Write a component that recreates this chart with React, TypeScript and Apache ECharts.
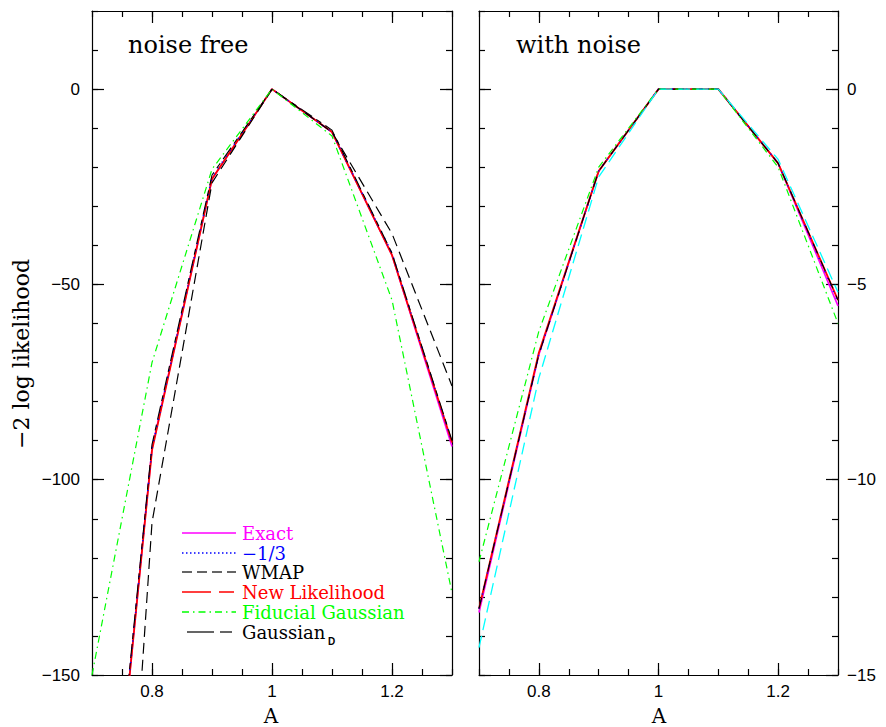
import React, { useEffect, useRef } from "react";
import * as echarts from "echarts";

// ---- data ----
const xs = [0.7, 0.8, 0.9, 1.0, 1.1, 1.2, 1.3];

// left panel: noise free
const exactL = [-247, -92, -23, 0, -11, -42.5, -91.5];
const oneThirdL = [-246, -92, -22.5, 0, -11, -42, -90.5];
const newLikeL = [-247, -92.5, -23, 0, -11, -42.5, -90.5];
const gaussDL = [-245, -91, -22, 0, -10.5, -42, -90];
const wmapL = [-340, -111, -24, 0, -11, -37, -76];
const fidL = [-150, -70, -20.5, 0, -12, -54, -129];

// right panel: with noise
const exactR = [-13.4, -6.8, -2.1, 0, 0, -1.9, -5.55];
const oneThirdR = [-13.3, -6.8, -2.1, 0, 0, -1.9, -5.45];
const newLikeR = [-13.3, -6.75, -2.1, 0, 0, -1.9, -5.4];
const wmapR = [-13.3, -6.8, -2.1, 0, 0, -1.9, -5.4];
const fidR = [-12.1, -6.2, -2.0, 0, 0, -2.0, -6.0];
const cyanR = [-14.3, -7.4, -2.25, 0, 0, -1.8, -5.2];

const xMajor = [0.8, 1, 1.2];
const yMajorL = [-150, -100, -50, 0];
const yMajorR = [-15, -10, -5, 0];

const legendNames = ["Exact", "\u22121/3", "WMAP", "New Likelihood", "Fiducial Gaussian", "Gaussian"];

const pair = (v: number[]) => xs.map((x, i) => [x, v[i]]);
const fmt = (v: number) => (v === 0 ? "0" : v < 0 ? "\u2212" + Math.abs(v) : String(v));

const AX = "#000";
const labelFont = { fontFamily: "Liberation Sans", fontSize: 17, color: "#000" };

function xAxes(grid: number) {
  const base = { type: "value", gridIndex: grid, min: 0.7, max: 1.3, splitLine: { show: false } };
  return [
    {
      ...base,
      position: "bottom",
      axisLine: { show: true, onZero: false, lineStyle: { color: AX, width: 1.2 } },
      axisTick: { show: true, inside: true, length: 12, customValues: xMajor, lineStyle: { color: AX, width: 1.2 } },
      axisLabel: { show: true, customValues: xMajor, margin: 8, formatter: (v: number) => String(v), ...labelFont },
    },
    {
      ...base,
      position: "bottom",
      interval: 0.05,
      axisLine: { show: false, onZero: false },
      axisTick: { show: true, inside: true, length: 6, lineStyle: { color: AX, width: 1.2 } },
      axisLabel: { show: false },
    },
    {
      ...base,
      position: "top",
      axisLine: { show: true, onZero: false, lineStyle: { color: AX, width: 1.2 } },
      axisTick: { show: true, inside: true, length: 12, customValues: xMajor, lineStyle: { color: AX, width: 1.2 } },
      axisLabel: { show: false },
    },
    {
      ...base,
      position: "top",
      interval: 0.05,
      axisLine: { show: false, onZero: false },
      axisTick: { show: true, inside: true, length: 6, lineStyle: { color: AX, width: 1.2 } },
      axisLabel: { show: false },
    },
  ];
}

function yAxes(grid: number, min: number, max: number, minor: number, majors: number[], labelSide: "left" | "right") {
  const base = { type: "value", gridIndex: grid, min, max, splitLine: { show: false } };
  const sides: ("left" | "right")[] = ["left", "right"];
  const out: any[] = [];
  sides.forEach((side) => {
    out.push({
      ...base,
      position: side,
      axisLine: { show: true, onZero: false, lineStyle: { color: AX, width: 1.2 } },
      axisTick: { show: true, inside: true, length: 12, customValues: majors, lineStyle: { color: AX, width: 1.2 } },
      axisLabel: {
        show: side === labelSide,
        customValues: majors,
        margin: side === "left" ? 12 : 9,
        formatter: fmt,
        ...labelFont,
      },
    });
    out.push({
      ...base,
      position: side,
      interval: minor,
      axisLine: { show: false, onZero: false },
      axisTick: { show: true, inside: true, length: 6, lineStyle: { color: AX, width: 1.2 } },
      axisLabel: { show: false },
    });
  });
  return out;
}

function line(name: string, data: number[], xi: number, yi: number, color: string, width: number, type: any, z: number) {
  return {
    name,
    type: "line",
    xAxisIndex: xi,
    yAxisIndex: yi,
    data: pair(data),
    symbol: "none",
    showSymbol: false,
    clip: true,
    z,
    lineStyle: { color, width, type },
  };
}

export default function App() {
  const ref = useRef<HTMLDivElement>(null);
  useEffect(() => {
    document.body.style.margin = "0";
    const chart = echarts.init(ref.current!, null, { renderer: "svg" });
    const dashDot = [7, 4, 1.5, 4];
    const longShort = [14, 5, 6, 5];
    const serif = "DejaVu Serif";

    const legendRows = [
      { y: 533, color: "#ff00ff", dash: undefined, text: legendNames[0], x1: 182 },
      { y: 553, color: "#0000ff", dash: [1.5, 2.5], text: legendNames[1], x1: 182 },
      { y: 572, color: "#333", dash: [10, 5], text: legendNames[2], x1: 182 },
      { y: 592, color: "#ff0000", dash: [29, 8, 15, 100], text: legendNames[3], x1: 182 },
      { y: 612, color: "#00ff00", dash: [7, 4, 1.5, 4], text: legendNames[4], x1: 182 },
      { y: 632, color: "#333", dash: [27, 6, 12, 100], text: legendNames[5], x1: 187 },
    ];
    const textColors = ["#ff00ff", "#0000ff", "#000", "#ff0000", "#00ff00", "#000"];

    const graphics: any[] = [];
    legendRows.forEach((r, i) => {
      graphics.push({
        type: "line",
        shape: { x1: r.x1, y1: r.y, x2: 236, y2: r.y },
        style: { stroke: r.color, lineWidth: 1.3, lineDash: r.dash },
        z: 100,
      });
      graphics.push({
        type: "text",
        x: 242,
        y: r.y,
        style: { text: r.text, fill: textColors[i], font: `18px "${serif}"`, verticalAlign: "middle", align: "left" },
        z: 100,
      });
    });
    graphics.push({
      type: "text",
      x: 328,
      y: 641,
      style: { text: "D", fill: "#000", font: `bold 10px "Liberation Sans"`, verticalAlign: "middle", align: "left" },
      z: 100,
    });
    graphics.push({
      type: "text",
      x: 128,
      y: 45,
      style: { text: "noise free", fill: "#000", font: `24px "${serif}"`, verticalAlign: "middle", align: "left" },
    });
    graphics.push({
      type: "text",
      x: 516,
      y: 45,
      style: { text: "with noise", fill: "#000", font: `24px "${serif}"`, verticalAlign: "middle", align: "left" },
    });
    graphics.push({
      type: "text",
      x: 21,
      y: 354,
      rotation: Math.PI / 2,
      style: { text: "\u22122 log likelihood", fill: "#000", font: `22px "${serif}"`, verticalAlign: "middle", align: "center" },
    });
    graphics.push({
      type: "text",
      x: 271,
      y: 716,
      style: { text: "A", fill: "#000", font: `20px "${serif}"`, verticalAlign: "middle", align: "center" },
    });
    graphics.push({
      type: "text",
      x: 659,
      y: 716,
      style: { text: "A", fill: "#000", font: `20px "${serif}"`, verticalAlign: "middle", align: "center" },
    });

    // axis indices: grid0 x: 0..3, grid1 x: 4..7 ; grid0 y: 0..3, grid1 y: 4..7
    const option: any = {
      animation: false,
      backgroundColor: "#fff",
      grid: [
        { left: 92, top: 11, width: 360, height: 664 },
        { left: 479, top: 11, width: 359, height: 664 },
      ],
      xAxis: [...xAxes(0), ...xAxes(1)],
      yAxis: [
        ...yAxes(0, -150, 20, 10, yMajorL, "left"),
        ...yAxes(1, -15, 2, 1, yMajorR, "right"),
      ],
      series: [
        line("Exact", exactL, 0, 0, "#ff00ff", 1.6, "solid", 2),
        line("New Likelihood", newLikeL, 0, 0, "#ff0000", 1.8, "solid", 3),
        line("-1/3", oneThirdL, 0, 0, "#0000ff", 1.5, [1.2, 6], 4),
        line("Gaussian_D", gaussDL, 0, 0, "#000", 1.1, longShort, 5),
        line("WMAP", wmapL, 0, 0, "#000", 1.2, [11, 6], 5),
        line("Fiducial Gaussian", fidL, 0, 0, "#00ff00", 1.2, dashDot, 6),

        line("Exact", exactR, 4, 4, "#ff00ff", 1.6, "solid", 2),
        line("New Likelihood", newLikeR, 4, 4, "#ff0000", 1.8, "solid", 3),
        line("-1/3", oneThirdR, 4, 4, "#0000ff", 1.5, [1.2, 6], 4),
        line("WMAP", wmapR, 4, 4, "#000", 1.1, [11, 8], 5),
        line("Fiducial Gaussian", fidR, 4, 4, "#00ff00", 1.2, dashDot, 6),
        line("Cyan", cyanR, 4, 4, "#00ffff", 1.3, [12, 6], 6),
      ],
      graphic: graphics,
    };
    chart.setOption(option);
    return () => chart.dispose();
  }, []);
  return <div ref={ref} style={{ width: 886, height: 727 }} />;
}
